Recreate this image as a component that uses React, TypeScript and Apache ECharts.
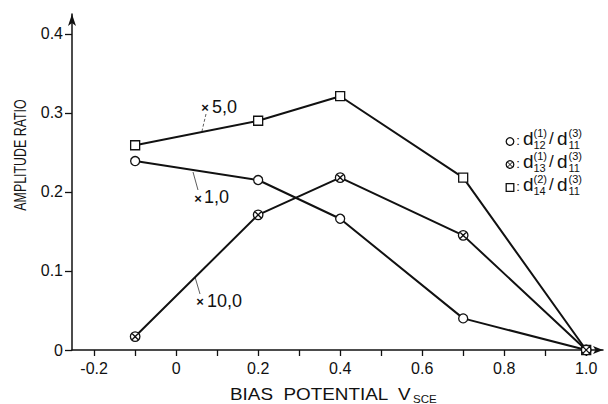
import React, { useEffect, useRef } from "react";
import * as echarts from "echarts";

// ---- data ----
const biasPotential = [-0.1, 0.2, 0.4, 0.7, 1.0];
const ratioD12 = [0.239, 0.215, 0.166, 0.04, 0.0]; // circles, ×1,0
const ratioD13 = [0.017, 0.171, 0.218, 0.145, 0.0]; // crossed circles, ×10,0
const ratioD14 = [0.259, 0.29, 0.321, 0.218, 0.0]; // squares, ×5,0

const xTickValues = [-0.2, -0.1, 0, 0.1, 0.2, 0.3, 0.4, 0.5, 0.6, 0.7, 0.8, 0.9, 1.0];
const xLabelValues = [-0.2, 0, 0.2, 0.4, 0.6, 0.8, 1.0];
const yTickValues = [0, 0.1, 0.2, 0.3, 0.4];

const seriesNames = ["d12(1)/d11(3)", "d13(1)/d11(3)", "d14(2)/d11(3)"];
const legendSub = ["12", "13", "14"];
const legendSup = ["(1)", "(1)", "(2)"];
const legendSymbols = ["circle", "crossed", "square"];
const scaleFactors = ["1,0", "10,0", "5,0"];

const FONT = "Liberation Sans";
const INK = "#111";
const CROSSED =
  "path://M10,0A10,10,0,1,1,10,20A10,10,0,1,1,10,0ZM2.93,2.93L17.07,17.07M17.07,2.93L2.93,17.07";

function txt(x: number, y: number, text: string, fontSize: number, align = "left", extra: any = {}, styleExtra: any = {}) {
  return {
    type: "text",
    x,
    y,
    silent: true,
    ...extra,
    style: {
      text,
      fontSize,
      fontFamily: FONT,
      fill: INK,
      align,
      verticalAlign: "middle",
      ...styleExtra,
    },
  };
}

function legendSymbol(kind: string, cx: number, cy: number): any[] {
  const st = { fill: "#fff", stroke: INK, lineWidth: 1.3 };
  if (kind === "square")
    return [{ type: "rect", shape: { x: cx - 3.8, y: cy - 3.8, width: 7.6, height: 7.6 }, style: st }];
  if (kind === "circle") return [{ type: "circle", shape: { cx, cy, r: 3.8 }, style: st }];
  const d = 2.6;
  return [
    { type: "circle", shape: { cx, cy, r: 3.8 }, style: st },
    { type: "line", shape: { x1: cx - d, y1: cy - d, x2: cx + d, y2: cy + d }, style: { stroke: INK, lineWidth: 1 } },
    { type: "line", shape: { x1: cx + d, y1: cy - d, x2: cx - d, y2: cy + d }, style: { stroke: INK, lineWidth: 1 } },
  ];
}

function buildLegend(): any[] {
  const out: any[] = [];
  const rowY = [138, 161, 184];
  legendSymbols.forEach((kind, i) => {
    const y = rowY[i];
    out.push(...legendSymbol(kind, 510, y + 3.5));
    out.push(txt(518, y + 2, ":", 13, "center"));
    out.push(txt(523, y, "d", 19));
    out.push(txt(533.5, y - 5.5, legendSup[i], 11));
    out.push(txt(533.5, y + 6.5, legendSub[i], 11));
    out.push(txt(549, y, "/", 17));
    out.push(txt(557, y, "d", 19));
    out.push(txt(568.5, y - 5.5, "(3)", 11));
    out.push(txt(568.5, y + 6.5, "11", 11));
  });
  return out;
}

function buildAnnotations(): any[] {
  const leader = (x1: number, y1: number, x2: number, y2: number, dash?: number[]) => ({
    type: "line",
    silent: true,
    shape: { x1, y1, x2, y2 },
    style: { stroke: "#333", lineWidth: 0.8, lineDash: dash },
  });
  const times = (x: number, y: number) => txt(x, y, "×", 13, "center", {}, { fontWeight: "bold" });
  return [
    // ×5,0 (squares)
    leader(206, 114, 202, 131, [3, 2]),
    times(205, 107),
    txt(212, 107, scaleFactors[2], 18),
    // ×1,0 (circles)
    leader(193, 172, 198, 190),
    times(198, 198),
    txt(204, 197, scaleFactors[0], 18),
    // ×10,0 (crossed circles)
    leader(195, 277, 200, 294),
    times(200, 301),
    txt(207, 301, scaleFactors[1], 18),
  ];
}

function buildAxisTitles(): any[] {
  return [
    txt(20, 155, "AMPLITUDE RATIO", 17, "center", { rotation: Math.PI / 2, scaleX: 0.73 }),
    txt(230, 395, "BIAS  POTENTIAL  V", 16, "left", { scaleX: 1.18 }),
    txt(413, 399, "SCE", 10.5, "left", { scaleX: 1.1 }),
  ];
}

const fmt = (v: number) => (Math.abs(v) < 1e-9 ? "0" : v.toFixed(1));

export default function App() {
  const ref = useRef<HTMLDivElement>(null);

  useEffect(() => {
    if (!ref.current) return;
    const chart = echarts.init(ref.current, undefined, { renderer: "svg" });
    const pairs = (ys: number[]) => biasPotential.map((x, i) => [x, ys[i]]);
    const markerStyle = { color: "#fff", borderColor: INK, borderWidth: 1.3 };
    const lineStyle = { color: INK, width: 2 };

    chart.setOption({
      animation: false,
      backgroundColor: "#fff",
      grid: { left: 72, right: 5, top: 14, bottom: 54 },
      xAxis: {
        type: "value",
        min: -0.254,
        max: 1.041,
        axisLine: {
          show: true,
          onZero: false,
          symbol: ["none", "arrow"],
          symbolSize: [6, 10],
          lineStyle: { color: INK, width: 1.5 },
        },
        axisTick: { show: true, customValues: xTickValues, length: 6, lineStyle: { color: INK, width: 1.3 } },
        axisLabel: {
          customValues: xLabelValues,
          formatter: fmt,
          margin: 10,
          fontSize: 16,
          fontFamily: FONT,
          color: INK,
        },
        splitLine: { show: false },
      },
      yAxis: {
        type: "value",
        min: 0,
        max: 0.425,
        axisLine: {
          show: true,
          onZero: false,
          symbol: ["none", "arrow"],
          symbolSize: [6, 12],
          lineStyle: { color: INK, width: 1.5 },
        },
        axisTick: { show: true, customValues: yTickValues, length: 7, lineStyle: { color: INK, width: 1.3 } },
        axisLabel: {
          customValues: yTickValues,
          formatter: fmt,
          margin: 9,
          fontSize: 16,
          fontFamily: FONT,
          color: INK,
        },
        splitLine: { show: false },
      },
      series: [
        {
          name: seriesNames[2],
          type: "line",
          data: pairs(ratioD14),
          symbol: "rect",
          symbolSize: 9,
          itemStyle: markerStyle,
          lineStyle,
          z: 2,
        },
        {
          name: seriesNames[0],
          type: "line",
          data: pairs(ratioD12),
          symbol: "circle",
          symbolSize: 9,
          itemStyle: markerStyle,
          lineStyle,
          z: 3,
        },
        {
          name: seriesNames[1],
          type: "line",
          data: pairs(ratioD13),
          symbol: CROSSED,
          symbolSize: 9.5,
          itemStyle: markerStyle,
          lineStyle,
          z: 4,
        },
      ],
      graphic: [...buildAnnotations(), ...buildLegend(), ...buildAxisTitles()],
    });
    return () => chart.dispose();
  }, []);

  return (
    <div
      ref={ref}
      style={{ position: "fixed", left: 0, top: 0, width: 608, height: 404, background: "#fff" }}
    />
  );
}
